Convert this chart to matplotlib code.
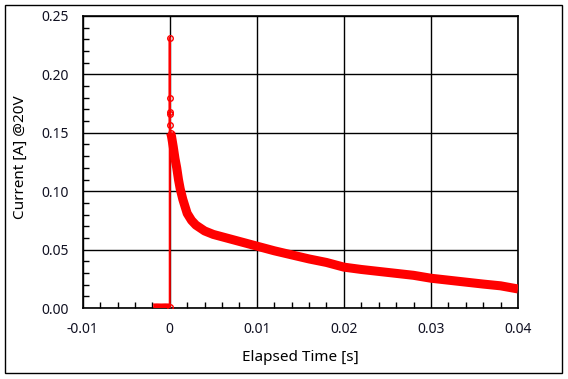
import matplotlib
matplotlib.use('Agg')
import matplotlib.pyplot as plt
from matplotlib.patches import Rectangle
from matplotlib.ticker import MultipleLocator, FixedFormatter, FixedLocator

plt.rcParams['font.family'] = ['Noto Sans', 'DejaVu Sans']

# baseline before trigger
t_base = [-0.0019, -0.0015, -0.001, -0.0005, 0.0001]
i_base = [0.0012, 0.0013, 0.0012, 0.0013, 0.0012]

# spike at t = 0
t_spike = [0.0, 0.0, 0.0, 0.0, 0.0, 0.0, 0.0001]
i_spike = [0.001, 0.231, 0.18, 0.168, 0.166, 0.157, 0.15]

# decay
t_decay = [0.0001, 0.0002, 0.0004, 0.0006, 0.0008, 0.001, 0.0012, 0.0015, 0.002,
           0.0025, 0.003, 0.004, 0.005, 0.006, 0.007, 0.008, 0.01, 0.012, 0.014,
           0.016, 0.018, 0.02, 0.022, 0.025, 0.028, 0.03, 0.033, 0.036, 0.038, 0.04]
i_decay = [0.15, 0.147, 0.138, 0.128, 0.12, 0.11, 0.102, 0.093, 0.081,
           0.075, 0.071, 0.066, 0.063, 0.061, 0.059, 0.057, 0.053, 0.049, 0.0455,
           0.042, 0.039, 0.035, 0.033, 0.0305, 0.028, 0.0255, 0.023, 0.0205, 0.019, 0.0163]

x_ticks = [-0.01, 0.0, 0.01, 0.02, 0.03, 0.04]
x_labels = ['-0.01', '0', '0.01', '0.02', '0.03', '0.04']
y_ticks = [0.0, 0.05, 0.10, 0.15, 0.20, 0.25]
y_labels = ['0.00', '0.05', '0.10', '0.15', '0.20', '0.25']

fig = plt.figure(figsize=(5.68, 3.79), dpi=100)
ax = fig.add_axes([0.1456, 0.1873, 0.7664, 0.7705])

red = '#ff0000'
ax.plot(t_base, i_base, color=red, lw=4.5, solid_capstyle='butt', zorder=3)
ax.plot(t_decay, i_decay, color=red, lw=6.5, solid_capstyle='butt', solid_joinstyle='round', zorder=3)
ax.plot(t_spike, i_spike, color=red, lw=1.5, marker='o', ms=4, mfc='none', mec=red, mew=1.0, zorder=4)

ax.set_xlim(-0.01, 0.04)
ax.set_ylim(0, 0.25)
ax.xaxis.set_major_locator(FixedLocator(x_ticks))
ax.xaxis.set_major_formatter(FixedFormatter(x_labels))
ax.yaxis.set_major_locator(FixedLocator(y_ticks))
ax.yaxis.set_major_formatter(FixedFormatter(y_labels))
ax.xaxis.set_minor_locator(MultipleLocator(0.002))
ax.yaxis.set_minor_locator(MultipleLocator(0.01))

ax.grid(True, which='major', color='black', lw=1.0)
ax.set_axisbelow(True)
ax.tick_params(which='both', direction='in', top=False, right=False, colors='black')
ax.tick_params(which='major', length=0, labelsize=10, labelcolor='#111122')
ax.tick_params(axis='x', which='major', pad=10)
ax.tick_params(axis='y', which='major', pad=10)
ax.tick_params(which='minor', length=4, width=1)
for s in ax.spines.values():
    s.set_color('black')
    s.set_linewidth(1.2)

ax.set_xlabel('Elapsed Time [s]', fontsize=11, color='black', va='center')
ax.xaxis.set_label_coords(0.5, -0.171)
ax.set_ylabel('Current [A] @20V', fontsize=11, color='black', va='center')
ax.yaxis.set_label_coords(-0.144, 0.515)

fig.patches.append(Rectangle((0.0088, 0.0158), 0.9806, 0.971, transform=fig.transFigure,
                             fill=False, edgecolor='black', lw=1.0))

fig.savefig('out.png', dpi=100)
